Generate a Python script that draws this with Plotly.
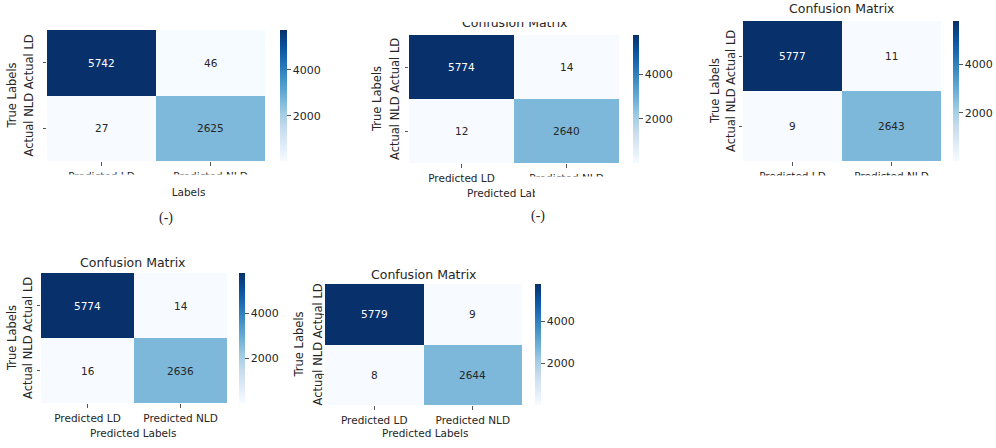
import plotly.graph_objects as go

W, H = 996, 448

pred_labels = ["Predicted LD", "Predicted NLD"]
true_labels = ["Actual LD", "Actual NLD"]
cbar_ticks = [2000, 4000]

cm_a = [[5742, 46], [27, 2625]]
cm_b = [[5774, 14], [12, 2640]]
cm_c = [[5777, 11], [9, 2643]]
cm_d = [[5774, 14], [16, 2636]]
cm_e = [[5779, 9], [8, 2644]]
matrices = [cm_a, cm_b, cm_c, cm_d, cm_e]

# matplotlib / ColorBrewer "Blues"
blues = ["#f7fbff", "#deebf7", "#c6dbef", "#9ecae1", "#6baed6",
         "#4292c6", "#2171b5", "#08519c", "#08306b"]

FONT = "DejaVu Sans"
DARK = "#262626"

# pixel layout of each panel: heatmap x0, x1, y0, y1, colorbar x0, colorbar width
boxes = [
    (47, 265, 30, 161, 280, 7),
    (409, 619, 35, 163, 633, 6),
    (743, 941, 21, 161, 953, 6),
    (41, 227, 273, 403, 239, 6),
    (325, 522, 284, 405, 535, 6),
]
# x of "True Labels" and of the stacked tick text
ylab_x = [(12, 29), (377, 395), (715, 731), (12, 28), (298, 317)]
# panel titles (centre px), None where cropped away
titles = [None, (515, 22.5), (842, 9), (133, 262), (424, 274)]
# x-axis titles (centre px)
xtitles = [(162, 192), (510, 193), None, (133, 433), (425, 433)]


def fx(x):
    return x / W


def fy(y):
    return 1 - y / H


def label(x, y, text, size, angle=0, family=FONT):
    return dict(x=fx(x), y=fy(y), xref="paper", yref="paper",
                xanchor="center", yanchor="middle", text=text,
                textangle=angle, showarrow=False,
                font=dict(family=family, size=size, color=DARK))


fig = go.Figure()
annotations = []

for i, cm in enumerate(matrices):
    x0, x1, y0, y1, cbx, cbw = boxes[i]
    n = "" if i == 0 else str(i + 1)
    flat = [v for row in cm for v in row]
    zmin, zmax = min(flat), max(flat)

    fig.add_trace(go.Heatmap(
        z=cm, x=pred_labels, y=true_labels,
        xaxis="x" + n, yaxis="y" + n,
        colorscale=[[k / 8, c] for k, c in enumerate(blues)],
        zmin=zmin, zmax=zmax, hoverinfo="skip",
        colorbar=dict(
            x=fx(cbx), xanchor="left", xpad=0, ypad=0,
            y=fy(y1), yanchor="bottom", len=(y1 - y0) / H, lenmode="fraction",
            thickness=cbw, outlinewidth=0,
            tickvals=cbar_ticks, ticks="outside", ticklen=4, tickwidth=1,
            tickcolor="#555555",
            tickfont=dict(family=FONT, size=11, color=DARK),
        ),
    ))

    fig.update_layout({
        "xaxis" + n: dict(domain=[fx(x0), fx(x1)], anchor="y" + n, type="category",
                          range=[-0.5, 1.5], showgrid=False, zeroline=False,
                          showline=False, ticks="outside", ticklen=3.5,
                          tickcolor="#555555", ticklabelstandoff=2,
                          tickfont=dict(family=FONT, size=10.5, color=DARK)),
        "yaxis" + n: dict(domain=[fy(y1), fy(y0)], anchor="x" + n, type="category",
                          range=[1.5, -0.5], showgrid=False, zeroline=False,
                          showline=False, ticks="outside", ticklen=3.5,
                          tickcolor="#555555", showticklabels=False),
    })

    # cell values
    for r in range(2):
        for c in range(2):
            v = cm[r][c]
            annotations.append(dict(
                x=pred_labels[c], y=true_labels[r], xref="x" + n, yref="y" + n,
                text=str(v), showarrow=False,
                font=dict(family=FONT, size=10.5,
                          color="white" if v > 0.6 * zmax else DARK)))

    # y labels
    cy = (y0 + y1) / 2
    tx, sx = ylab_x[i]
    annotations.append(label(tx, cy, "True Labels", 11.5, -90))
    annotations.append(label(sx, cy, " ".join(reversed(true_labels)), 11.5, -90))

    if titles[i]:
        annotations.append(label(*titles[i], "Confusion Matrix", 12.5))
    if xtitles[i]:
        annotations.append(label(*xtitles[i], "Predicted Labels", 10.5))


# white patches where the source figure was cropped / overlapped
def cover(xa, xb, ya, yb):
    annotations.append(dict(x=fx(xa), y=fy(ya), xref="paper", yref="paper",
                            xanchor="left", yanchor="top", text="&nbsp;",
                            width=xb - xa, height=yb - ya, bgcolor="white",
                            borderpad=0, borderwidth=0, showarrow=False))


cover(95, 171, 184, 203)
cover(535, 610, 184, 203)
cover(455, 575, 4, 21.5)

# caption fragments
for cx, cyy in [(166, 218), (538, 216)]:
    annotations.append(label(cx, cyy, "(-)", 14, family="Liberation Serif"))

shapes = []
for xa, xb, ya, yb in [(0, 330, 174.5, 190), (517, 632, 176.5, 190), (660, 996, 175.5, 200)]:
    shapes.append(dict(type="rect", xref="paper", yref="paper", layer="above",
                       x0=fx(xa), x1=fx(xb), y0=fy(yb), y1=fy(ya),
                       fillcolor="white", line=dict(width=0)))

fig.update_layout(
    width=W, height=H,
    margin=dict(l=0, r=0, t=0, b=0),
    paper_bgcolor="white", plot_bgcolor="white",
    annotations=annotations, shapes=shapes,
    font=dict(family=FONT, color=DARK),
)

# drop the default 8px page margin so pixel positions line up
fig.write_html("out.html", config={"displayModeBar": False},
               post_script="document.body.style.margin='0';")
